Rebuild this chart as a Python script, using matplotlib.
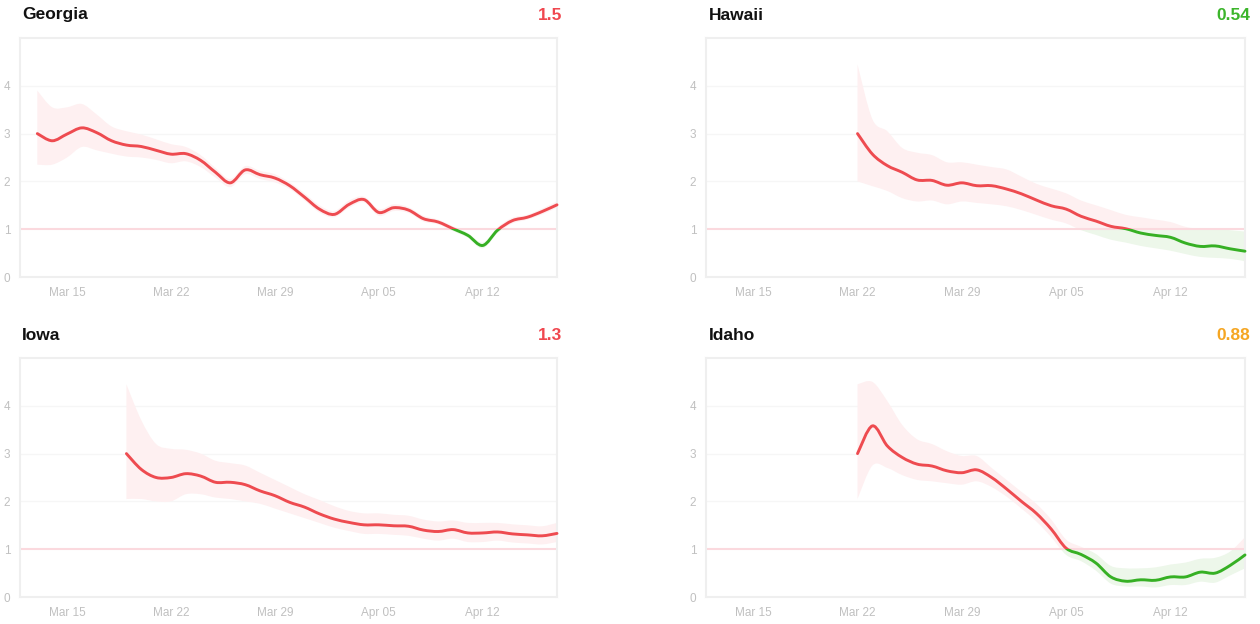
import numpy as np
import pandas as pd
import matplotlib
matplotlib.use('Agg')
import matplotlib.pyplot as plt
import matplotlib.dates as mdates
from matplotlib.path import Path
from matplotlib.patches import PathPatch, Rectangle

plt.rcParams['font.family'] = ['Liberation Sans', 'DejaVu Sans']

# ---- data (daily Rt estimates) ----
states = ['Georgia', 'Hawaii', 'Iowa', 'Idaho']
latest = ['1.5', '0.54', '1.3', '0.88']
latest_colors = ['#f0474f', '#3cb52b', '#f0474f', '#f5a623']
starts = ['2020-03-13', '2020-03-22', '2020-03-19', '2020-03-22']

georgia_rt = [3.0, 2.85, 2.99, 3.12, 3.02, 2.85, 2.76, 2.73, 2.65, 2.57, 2.58, 2.44,
              2.19, 1.97, 2.24, 2.14, 2.07, 1.91, 1.67,
              1.42, 1.31, 1.52, 1.62, 1.35, 1.45, 1.40, 1.22, 1.15, 1.01, 0.87, 0.66,
              0.98, 1.18, 1.25, 1.37, 1.51]
georgia_hi = [3.9, 3.55, 3.55, 3.62, 3.4, 3.15, 3.05, 2.98, 2.88, 2.78, 2.72, 2.55,
              2.28, 2.05, 2.32, 2.22, 2.15, 1.98, 1.75,
              1.5, 1.38, 1.6, 1.68, 1.42, 1.52, 1.46, 1.28, 1.2, 1.06, 0.92, 0.72,
              1.04, 1.24, 1.3, 1.43, 1.58]
georgia_lo = [2.35, 2.35, 2.5, 2.72, 2.65, 2.58, 2.52, 2.5, 2.45, 2.38, 2.42, 2.3,
              2.08, 1.88, 2.15, 2.05, 1.98, 1.84, 1.6,
              1.35, 1.25, 1.45, 1.56, 1.28, 1.38, 1.34, 1.16, 1.1, 0.96, 0.82, 0.6,
              0.92, 1.12, 1.2, 1.31, 1.45]

hawaii_rt = [3.0, 2.57, 2.33, 2.19, 2.03, 2.02, 1.92, 1.97, 1.91, 1.91,
             1.84, 1.74, 1.61, 1.49, 1.42, 1.27, 1.17, 1.06, 1.01, 0.92, 0.87, 0.83,
             0.71, 0.64, 0.65, 0.59, 0.54]
hawaii_hi = [4.45, 3.3, 3.05, 2.7, 2.6, 2.55, 2.4, 2.4, 2.35, 2.3,
             2.25, 2.1, 1.95, 1.85, 1.75, 1.6, 1.5, 1.4, 1.3, 1.25, 1.2, 1.15,
             1.05, 1.0, 1.0, 0.98, 0.95]
hawaii_lo = [2.0, 1.9, 1.8, 1.65, 1.58, 1.6, 1.52, 1.58, 1.55, 1.52,
             1.48, 1.4, 1.3, 1.2, 1.12, 0.98, 0.88, 0.78, 0.72, 0.65, 0.6, 0.55,
             0.48, 0.42, 0.4, 0.38, 0.33]

iowa_rt = [3.0, 2.67, 2.5, 2.5, 2.58, 2.53, 2.4, 2.4, 2.35, 2.22, 2.12, 1.98, 1.88,
           1.74, 1.63, 1.56, 1.51, 1.51, 1.49, 1.48, 1.40, 1.37, 1.41, 1.34, 1.34,
           1.36, 1.32, 1.30, 1.28, 1.33]
iowa_hi = [4.45, 3.7, 3.2, 3.1, 3.08, 3.0, 2.85, 2.8, 2.75, 2.6, 2.45, 2.3, 2.15,
           2.03, 1.9, 1.8, 1.75, 1.75, 1.72, 1.7, 1.62, 1.58, 1.6, 1.55, 1.55,
           1.55, 1.52, 1.5, 1.48, 1.55]
iowa_lo = [2.05, 2.05, 2.0, 2.0, 2.15, 2.15, 2.08, 2.05, 2.0, 1.95, 1.85, 1.75, 1.65,
           1.55, 1.45, 1.38, 1.32, 1.32, 1.3, 1.28, 1.22, 1.18, 1.22, 1.15, 1.15,
           1.18, 1.14, 1.12, 1.1, 1.15]

idaho_rt = [3.0, 3.58, 3.16, 2.92, 2.78, 2.74, 2.64, 2.6, 2.66, 2.5,
            2.26, 2.0, 1.75, 1.42, 1.02, 0.89, 0.71, 0.42, 0.33, 0.36, 0.35, 0.42,
            0.42, 0.52, 0.5, 0.66, 0.88]
idaho_hi = [4.45, 4.5, 4.1, 3.6, 3.3, 3.2, 3.05, 2.95, 2.95, 2.7,
            2.45, 2.2, 1.95, 1.62, 1.2, 1.05, 0.9, 0.65, 0.6, 0.6, 0.62, 0.68,
            0.72, 0.8, 0.82, 0.95, 1.25]
idaho_lo = [2.05, 2.75, 2.7, 2.55, 2.45, 2.42, 2.38, 2.35, 2.42, 2.3,
            2.1, 1.85, 1.58, 1.25, 0.88, 0.75, 0.55, 0.28, 0.22, 0.22, 0.2, 0.25,
            0.25, 0.32, 0.3, 0.45, 0.6]

series = [(georgia_rt, georgia_lo, georgia_hi), (hawaii_rt, hawaii_lo, hawaii_hi),
          (iowa_rt, iowa_lo, iowa_hi), (idaho_rt, idaho_lo, idaho_hi)]

tick_dates = ['2020-03-15', '2020-03-22', '2020-03-29', '2020-04-05', '2020-04-12']

RED = '#ee4b50'
GREEN = '#36b024'
PINK_FILL = '#fef0f1'
GREEN_FILL = '#edf7ea'


def smooth(x, y):
    # catmull-rom curve through the daily points, drawn as cubic beziers
    px = np.concatenate([[x[0]], x, [x[-1]]])
    py = np.concatenate([[y[0]], y, [y[-1]]])
    verts = [(x[0], y[0])]
    codes = [Path.MOVETO]
    for i in range(len(x) - 1):
        p0 = np.array([px[i], py[i]])
        p1 = np.array([px[i + 1], py[i + 1]])
        p2 = np.array([px[i + 2], py[i + 2]])
        p3 = np.array([px[i + 3], py[i + 3]])
        verts += [tuple(p1 + (p2 - p0) / 6), tuple(p2 - (p3 - p1) / 6), tuple(p2)]
        codes += [Path.CURVE4] * 3
    return verts, codes


def draw_panel(ax, start, rt, lo, hi):
    dates = pd.date_range(start, periods=len(rt), freq='D')
    x = mdates.date2num(dates)
    rt, lo, hi = np.array(rt), np.array(lo), np.array(hi)

    xmin = mdates.date2num(pd.Timestamp('2020-03-11 20:00'))
    xmax = mdates.date2num(pd.Timestamp('2020-04-17'))
    ax.set_xlim(xmin, xmax)
    ax.set_ylim(0, 5)

    above = Rectangle((xmin - 5, 1), 60, 10, transform=ax.transData)
    below = Rectangle((xmin - 5, -10), 60, 11, transform=ax.transData)

    # confidence band, pink above 1 and green below
    uv, uc = smooth(x, hi)
    lv, lc = smooth(x[::-1], lo[::-1])
    lc[0] = Path.LINETO
    band = Path(uv + lv + [uv[0]], uc + lc + [Path.CLOSEPOLY])
    for color, clip in [(PINK_FILL, above), (GREEN_FILL, below)]:
        p = PathPatch(band, facecolor=color, edgecolor='none', zorder=1)
        ax.add_patch(p)
        p.set_clip_path(clip)

    for yv in [2, 3, 4]:
        ax.axhline(yv, color='#f6f6f6', lw=1, zorder=0.5)
    ax.axhline(1, color='#fbd9de', lw=1.5, zorder=2)

    # Rt line, red above 1 and green below
    lv2, lc2 = smooth(x, rt)
    line_path = Path(lv2, lc2)
    for color, clip in [(RED, above), (GREEN, below)]:
        p = PathPatch(line_path, facecolor='none', edgecolor=color, lw=2.1,
                      capstyle='round', joinstyle='round', zorder=3)
        ax.add_patch(p)
        p.set_clip_path(clip)

    ax.set_yticks([0, 1, 2, 3, 4])
    ax.set_xticks(mdates.date2num(pd.to_datetime(tick_dates)))
    ax.xaxis.set_major_formatter(mdates.DateFormatter('%b %d'))
    ax.tick_params(length=0, labelsize=8.5, labelcolor='#c0c0c0')
    ax.tick_params(axis='y', pad=7)
    ax.tick_params(axis='x', pad=7)
    for s in ax.spines.values():
        s.set_color('#efefef')
        s.set_linewidth(1.5)


fig = plt.figure(figsize=(12.6, 6.24), dpi=100)
W, H = 1260, 624
boxes = [(20, 38, 537), (706, 38, 539), (20, 358, 537), (706, 358, 539)]
title_x = [(22, 562), (709, 1250), (22, 562), (709, 1250)]
title_y = [15, 15, 335, 335]

for i, name in enumerate(states):
    bx, by, bw = boxes[i]
    ax = fig.add_axes([bx / W, 1 - (by + 239) / H, bw / W, 239 / H])
    rt, lo, hi = series[i]
    draw_panel(ax, starts[i], rt, lo, hi)
    fig.text(title_x[i][0] / W, 1 - title_y[i] / H, name, ha='left', va='center',
             fontsize=12.5, fontweight='bold', color='#111111')
    fig.text(title_x[i][1] / W, 1 - title_y[i] / H, latest[i], ha='right', va='center',
             fontsize=12.5, fontweight='bold', color=latest_colors[i])

fig.savefig('out.png', dpi=100)
plt.close(fig)
